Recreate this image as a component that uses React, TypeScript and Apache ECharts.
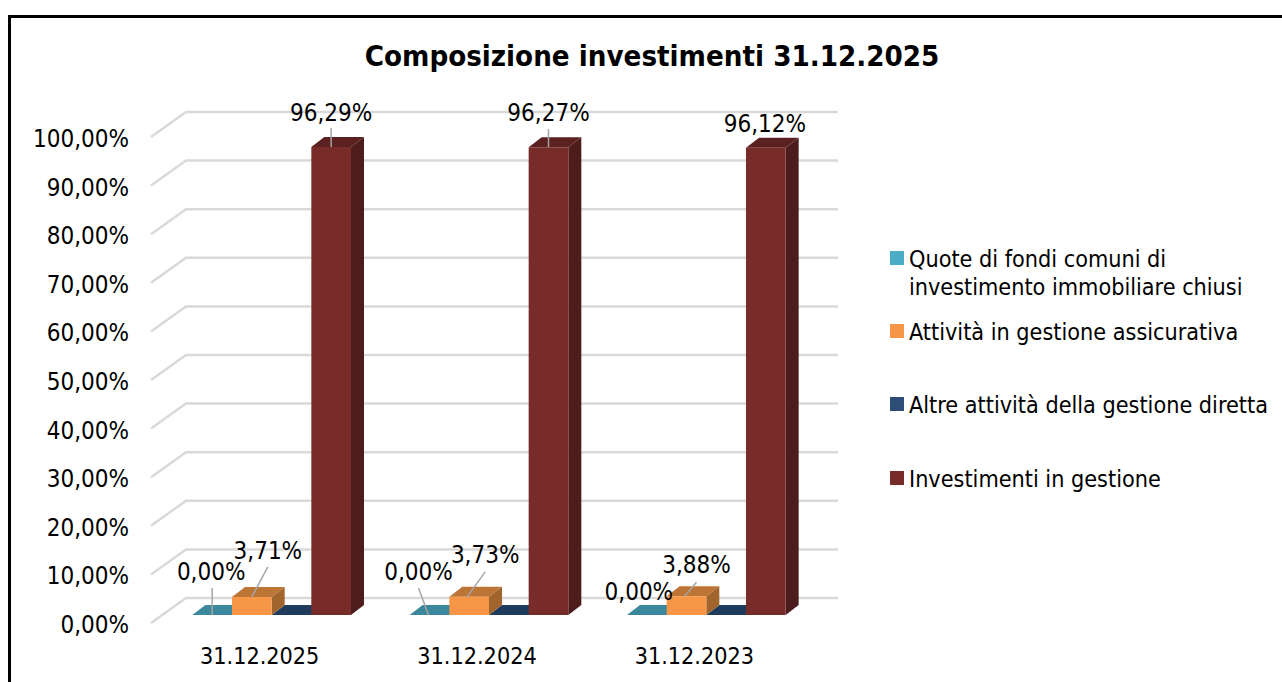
import React, { useEffect, useRef } from "react";
import * as echarts from "echarts";

const FONT = "'DejaVu Sans Condensed', 'DejaVu Sans', sans-serif";
const titleText = "Composizione investimenti 31.12.2025";
const categories = ["31.12.2025", "31.12.2024", "31.12.2023"];
const yTicks = [0, 10, 20, 30, 40, 50, 60, 70, 80, 90, 100];

const quoteFondi = [0, 0, 0];
const attivitaAssicurativa = [3.71, 3.73, 3.88];
const altreAttivita = [0, 0, 0];
const investimentiGestione = [96.29, 96.27, 96.12];

const seriesNames = [
  "Quote di fondi comuni di investimento immobiliare chiusi",
  "Attività in gestione assicurativa",
  "Altre attività della gestione diretta",
  "Investimenti in gestione",
];
const seriesValues = [quoteFondi, attivitaAssicurativa, altreAttivita, investimentiGestione];
// colours: legend/front, top, side
const faceColors = [
  ["#4bacc6", "#3b879c", "#31707f"],
  ["#f79646", "#bd7535", "#a0642c"],
  ["#2c4d75", "#203c5c", "#1a324e"],
  ["#772c2a", "#5a2120", "#4c1d1c"],
];
const legendTops = [216, 317, 390, 464];
// painter's order: teal, navy, orange, maroon
const drawOrder = [0, 2, 1, 3];
// label centre (dx, dy) and leader line (start dx, start dy, end dx), relative to a bar's front-top centre;
// start dy of 0 means that point has no visible leader
const labelOffsets = [
  [[-1, -43, 0, -27, 0], [-11, -43, -11, -27, -1], [-8, -23, 0, 0, 0]],
  [[16, -46, 16, -30, 0], [16, -42, 16, -25, -2], [10, -31, 10, -14, -2]],
  [],
  [[0, -34, 0, -19, 0], [0, -34, 0, -18, 0], [-1, -24, 0, 0, 0]],
];

const BAR_RATIO = 0.1825;
const BAR_SHIFT_X = 12;
const BAR_SHIFT_Y = -8;
const BAR_DX = 13;
const BAR_DY = -10;
const WALL_DX = 35;
const WALL_DY = -25;
const PLOT_LEFT = 151;
const PLOT_WIDTH = 652;
const PLOT_TOP = 137;
const PLOT_HEIGHT = 486;

const fmt = (v: number) => v.toFixed(2).replace(".", ",") + "%";

function barSeries(s: number) {
  return {
    type: "custom",
    name: seriesNames[s],
    z: 3 + drawOrder.indexOf(s),
    itemStyle: { color: faceColors[s][0] },
    data: seriesValues[s].map((v, i) => [i, v]),
    renderItem: (_p: any, api: any) => {
      const c = api.value(0);
      const base = api.coord([c, 0]);
      const top = api.coord([c, api.value(1)]);
      const w = api.size([1, 0])[0] * BAR_RATIO;
      const x0 = base[0] + BAR_SHIFT_X + (s - 2) * w;
      const x1 = x0 + w;
      const y0 = base[1] + BAR_SHIFT_Y;
      const y1 = top[1] + BAR_SHIFT_Y;
      const [front, topC, side] = faceColors[s];
      const poly = (points: number[][], fill: string) => ({
        type: "polygon",
        shape: { points },
        style: { fill },
      });
      return {
        type: "group",
        children: [
          poly([[x1, y0], [x1 + BAR_DX, y0 + BAR_DY], [x1 + BAR_DX, y1 + BAR_DY], [x1, y1]], side),
          poly([[x0, y1], [x1, y1], [x1 + BAR_DX, y1 + BAR_DY], [x0 + BAR_DX, y1 + BAR_DY]], topC),
          ...(y0 - y1 > 0.5 ? [poly([[x0, y0], [x1, y0], [x1, y1], [x0, y1]], front)] : []),
        ],
      };
    },
  };
}

const gridSeries = {
  type: "custom",
  name: "griglia",
  z: 1,
  silent: true,
  data: yTicks.map((t) => [0, t]),
  renderItem: (_p: any, api: any) => {
    const y = api.coord([0, api.value(1)])[1];
    return {
      type: "polyline",
      shape: {
        points: [
          [PLOT_LEFT, y],
          [PLOT_LEFT + WALL_DX, y + WALL_DY],
          [PLOT_LEFT + PLOT_WIDTH + WALL_DX, y + WALL_DY],
        ],
      },
      style: { stroke: "#d9d9d9", lineWidth: 2.5, fill: "none" },
    };
  },
};

const labelRows = [0, 1, 3].flatMap((s) => seriesValues[s].map((v, i) => [i, v, s]));
const labelSeries = {
  type: "custom",
  name: "etichette",
  z: 10,
  silent: true,
  data: labelRows,
  renderItem: (_p: any, api: any) => {
    const c = api.value(0);
    const v = api.value(1);
    const s = api.value(2);
    const base = api.coord([c, 0]);
    const top = api.coord([c, v]);
    const w = api.size([1, 0])[0] * BAR_RATIO;
    const cx = base[0] + BAR_SHIFT_X + (s - 2) * w + w / 2;
    const cy = top[1] + BAR_SHIFT_Y;
    const [lx, ly, sx, sy, ex] = labelOffsets[s][c];
    const children: any[] = [];
    if (sy !== 0) {
      children.push({
        type: "line",
        shape: { x1: cx + sx, y1: cy + sy, x2: cx + ex, y2: cy },
        style: { stroke: "#a6a6a6", lineWidth: 1.5 },
      });
    }
    children.push({
      type: "text",
      x: cx + lx,
      y: cy + ly,
      style: {
        text: fmt(v),
        align: "center",
        verticalAlign: "middle",
        fontSize: 24,
        fontFamily: FONT,
        fill: "#000",
      },
    });
    return { type: "group", children };
  },
};

export default function App() {
  const ref = useRef<HTMLDivElement>(null);
  useEffect(() => {
    const chart = echarts.init(ref.current!, undefined, { renderer: "svg" });
    chart.setOption({
      animation: false,
      backgroundColor: "#fff",
      title: {
        text: titleText,
        left: 647,
        top: 36,
        textAlign: "center",
        textStyle: { fontFamily: FONT, fontSize: 29.2, fontWeight: "bold", color: "#000" },
      },
      grid: { left: PLOT_LEFT, top: PLOT_TOP, width: PLOT_WIDTH, height: PLOT_HEIGHT },
      xAxis: {
        type: "category",
        data: categories,
        axisLine: { show: false },
        axisTick: { show: false },
        axisLabel: { fontFamily: FONT, fontSize: 23.2, color: "#000", margin: 21 },
      },
      yAxis: {
        type: "value",
        min: 0,
        max: 100,
        interval: 10,
        axisLine: { show: false },
        axisTick: { show: false },
        splitLine: { show: false },
        axisLabel: {
          color: "#000",
          margin: 22,
          formatter: (v: number) => `{t|${fmt(v)}}`,
          rich: {
            t: {
              fontFamily: FONT,
              fontSize: 24,
              color: "#000",
              padding: [4, 0, 0, 0],
            },
          },
        },
      },
      legend: seriesNames.map((name, i) => ({
        orient: "vertical",
        left: 890,
        top: legendTops[i],
        padding: 0,
        itemWidth: 14,
        itemHeight: 14,
        icon: "rect",
        selectedMode: false,
        data: [{ name, icon: "rect", itemStyle: { color: faceColors[i][0] } }],
        formatter: (n: string) =>
          i === 0 ? "\nQuote di fondi comuni di\ninvestimento immobiliare chiusi" : n,
        textStyle: { fontFamily: FONT, fontSize: 23.2, lineHeight: 28, color: "#000" },
      })),
      graphic: [
        {
          type: "rect",
          silent: true,
          z: 100,
          shape: { x: 9.5, y: 16.5, width: 2000, height: 2000 },
          style: { fill: "none", stroke: "#000", lineWidth: 3 },
        },
      ],
      series: [gridSeries, ...drawOrder.map(barSeries), labelSeries],
    });
    return () => chart.dispose();
  }, []);
  return (
    <div
      ref={ref}
      style={{ position: "fixed", left: 0, top: 0, width: 1282, height: 682, overflow: "hidden" }}
    />
  );
}
